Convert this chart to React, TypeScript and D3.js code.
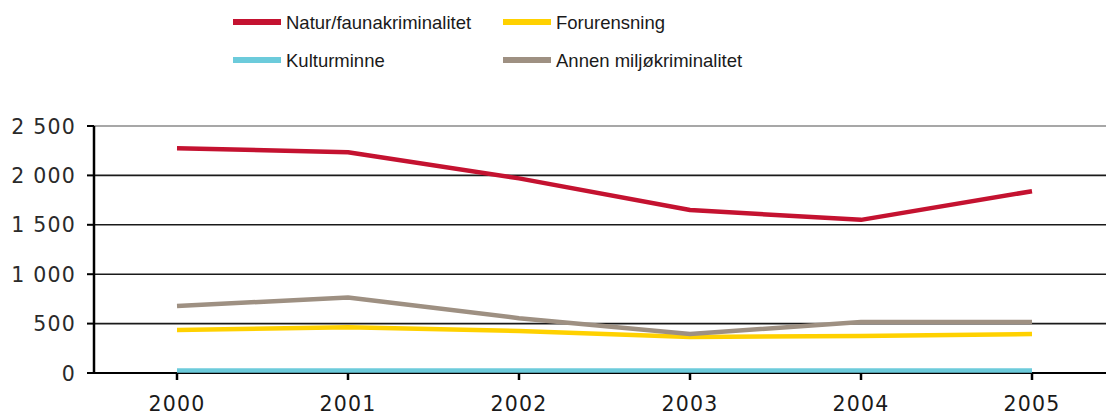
import * as d3 from "d3";

const years = [2000, 2001, 2002, 2003, 2004, 2005];
const natur = [2275, 2235, 1970, 1650, 1550, 1840];
const forurensning = [435, 462, 425, 365, 375, 395];
const kulturminne = [25, 25, 25, 25, 25, 25];
const annen = [678, 765, 555, 395, 515, 515];
const yTicks = [0, 500, 1000, 1500, 2000, 2500];

const seriesList = [
  { name: "Natur/faunakriminalitet", values: natur, color: "#c41230" },
  { name: "Forurensning", values: forurensning, color: "#ffd100" },
  { name: "Kulturminne", values: kulturminne, color: "#6ccbdb" },
  { name: "Annen miljøkriminalitet", values: annen, color: "#9e9082" },
];

const W = 1106;
const H = 415;
const axisX = 94;
const font = "'DejaVu Sans', sans-serif";
const legendFont = "'Liberation Sans', Arial, sans-serif";

export default function App() {
  const x = d3.scaleLinear().domain([2000, 2005]).range([177, 1032]);
  const y = d3.scaleLinear().domain([0, 2500]).range([373, 126]);
  const line = d3
    .line<number>()
    .x((_, i) => x(years[i]))
    .y((d) => y(d));

  const fmt = (v: number) => d3.format(",")(v).replace(",", " ");

  // legend: 2 kolonner
  const legendPos = [
    { lx: 233, ly: 22 },
    { lx: 503, ly: 22 },
    { lx: 233, ly: 60 },
    { lx: 503, ly: 60 },
  ];

  return (
    <svg
      width={W}
      height={H}
      style={{ position: "absolute", left: 0, top: 0, background: "#fff" }}
    >
      {seriesList.map((s, i) => (
        <g key={s.name} transform={`translate(${legendPos[i].lx},${legendPos[i].ly})`}>
          <line x1={0} x2={48} y1={0} y2={0} stroke={s.color} strokeWidth={6} />
          <text x={53} y={6.5} fontSize={18.5} fontFamily={legendFont} fill="#1a1a1a">
            {s.name}
          </text>
        </g>
      ))}

      {/* rutenett */}
      {yTicks.map((t) => (
        <g key={t}>
          {t > 0 && (
            <line
              x1={axisX}
              x2={W}
              y1={y(t)}
              y2={y(t)}
              stroke={t === 2500 ? "#8a8a8a" : "#1a1a1a"}
              strokeWidth={t === 2500 ? 1.5 : 1.6}
            />
          )}
          <line x1={87} x2={axisX} y1={y(t)} y2={y(t)} stroke="#000" strokeWidth={2} />
          <text
            x={76}
            y={y(t) + 7.5}
            textAnchor="end"
            fontSize={20.5}
            fontFamily={font}
            fill="#2a2a2a"
            letterSpacing={1.2}
          >
            {fmt(t)}
          </text>
        </g>
      ))}

      {/* x-akse */}
      <line x1={axisX - 7} x2={W} y1={y(0)} y2={y(0)} stroke="#000" strokeWidth={2} />

      {/* serier */}
      {seriesList.map((s) => (
        <path
          key={s.name}
          d={line(s.values) || ""}
          fill="none"
          stroke={s.color}
          strokeWidth={4.5}
          strokeLinejoin="round"
        />
      ))}

      <line x1={axisX} x2={axisX} y1={126} y2={y(0)} stroke="#000" strokeWidth={2.5} />
      {years.map((yr) => (
        <g key={yr}>
          <line x1={x(yr)} x2={x(yr)} y1={y(0)} y2={y(0) + 7} stroke="#000" strokeWidth={2.5} />
          <text
            x={x(yr)}
            y={411}
            textAnchor="middle"
            fontSize={20.5}
            fontFamily={font}
            fill="#1a1a1a"
            letterSpacing={1.2}
          >
            {yr}
          </text>
        </g>
      ))}
    </svg>
  );
}
